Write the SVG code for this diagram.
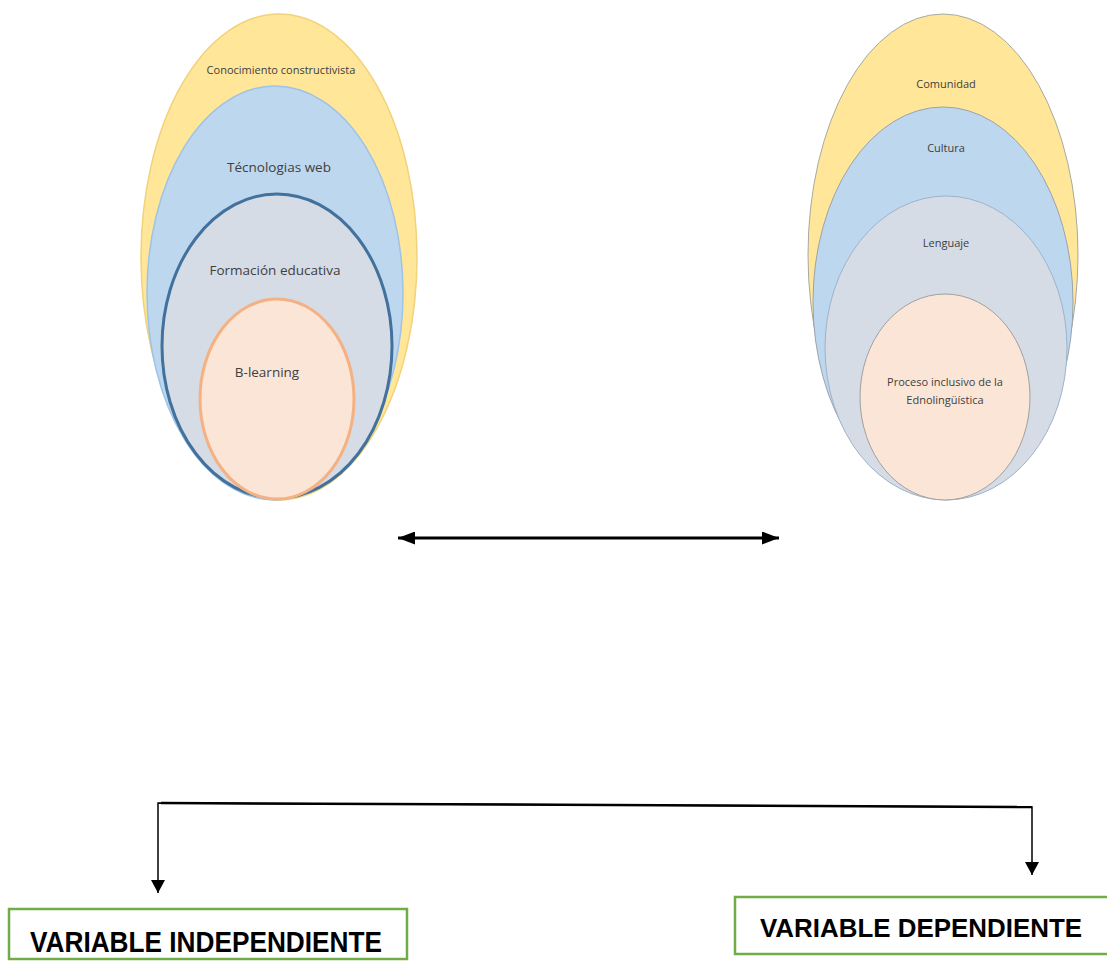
<svg xmlns="http://www.w3.org/2000/svg" width="1107" height="961" viewBox="0 0 1107 961">
<style>
.lbl{font-family:"Open Sans","Liberation Sans",sans-serif;fill:#404040;text-anchor:middle}
.var{font-family:"Liberation Sans",Arial,sans-serif;font-weight:bold;fill:#000}
.box{fill:#fff;stroke:#70AD47;stroke-width:2.5}
.conn{fill:none;stroke:#000}
</style>
<defs>
<marker id="ah2" viewBox="0 0 10 10" refX="10" refY="5" markerWidth="17" markerHeight="13" orient="auto-start-reverse" markerUnits="userSpaceOnUse" preserveAspectRatio="none">
<path d="M0,0L10,5L0,10z" fill="#000"/>
</marker>
</defs>
<rect width="1107" height="961" fill="#fff"/>
<g id="left-set">
<g id="conocimiento"><ellipse cx="279" cy="257" rx="138" ry="243" fill="#FFE699" stroke="#F2D27A" stroke-width="1.5"/>
<text class="lbl" x="281" y="74" font-size="11">Conocimiento constructivista</text></g>
<g id="tecnologias"><ellipse cx="275" cy="293" rx="128" ry="207" fill="#BDD7EE" stroke="#9DC3E6" stroke-width="1.5"/>
<text class="lbl" x="279" y="172" font-size="13.5">Técnologias web</text></g>
<g id="formacion"><ellipse cx="277" cy="346" rx="115" ry="152" fill="#D6DCE5" stroke="#41719C" stroke-width="3"/>
<text class="lbl" x="275" y="275" font-size="13.5">Formación educativa</text></g>
<g id="blearning"><ellipse cx="277" cy="399" rx="77" ry="100" fill="#FBE5D6" stroke="#F4B183" stroke-width="3"/>
<text class="lbl" x="267" y="377" font-size="13.5">B-learning</text></g>
</g>
<g id="right-set">
<g id="comunidad"><ellipse cx="943" cy="255" rx="135" ry="241" fill="#FFE699" stroke="#A9A9A0" stroke-width="1"/>
<text class="lbl" x="946" y="88" font-size="11">Comunidad</text></g>
<g id="cultura"><ellipse cx="943" cy="302" rx="130" ry="195" fill="#BDD7EE" stroke="#9AA3AE" stroke-width="1"/>
<text class="lbl" x="946" y="152" font-size="11">Cultura</text></g>
<g id="lenguaje"><ellipse cx="946" cy="348" rx="121" ry="152" fill="#D6DCE5" stroke="#9DB3CB" stroke-width="1"/>
<text class="lbl" x="946" y="247" font-size="11">Lenguaje</text></g>
<g id="proceso"><ellipse cx="945" cy="397" rx="85" ry="103" fill="#FBE5D6" stroke="#A0A0A0" stroke-width="1"/>
<text class="lbl" x="945" y="386" font-size="11">Proceso inclusivo de la</text>
<text class="lbl" x="945" y="404" font-size="11">Ednolingüística</text></g>
</g>
<g id="connectors">
<line class="conn" x1="398" y1="538" x2="779" y2="538" stroke-width="3" marker-start="url(#ah2)" marker-end="url(#ah2)"/>
<polyline class="conn" points="158,893 158,803 1032,807 1032,875" stroke-width="1.5" stroke-linejoin="miter"/>
<path d="M151,880L165,880L158,893z" fill="#000"/>
<path d="M1025,862L1039,862L1032,875z" fill="#000"/>
<line x1="161" y1="803" x2="1032" y2="807" stroke="#000" stroke-width="2.5"/>
</g>
<g id="var-independiente">
<rect class="box" x="9" y="909" width="398" height="50"/>
<text class="var" x="30" y="952" font-size="30" textLength="352" lengthAdjust="spacingAndGlyphs">VARIABLE INDEPENDIENTE</text>
</g>
<g id="var-dependiente">
<rect class="box" x="735" y="897" width="380" height="57"/>
<text class="var" x="760" y="937" font-size="26" textLength="322" lengthAdjust="spacingAndGlyphs">VARIABLE DEPENDIENTE</text>
</g>
</svg>
